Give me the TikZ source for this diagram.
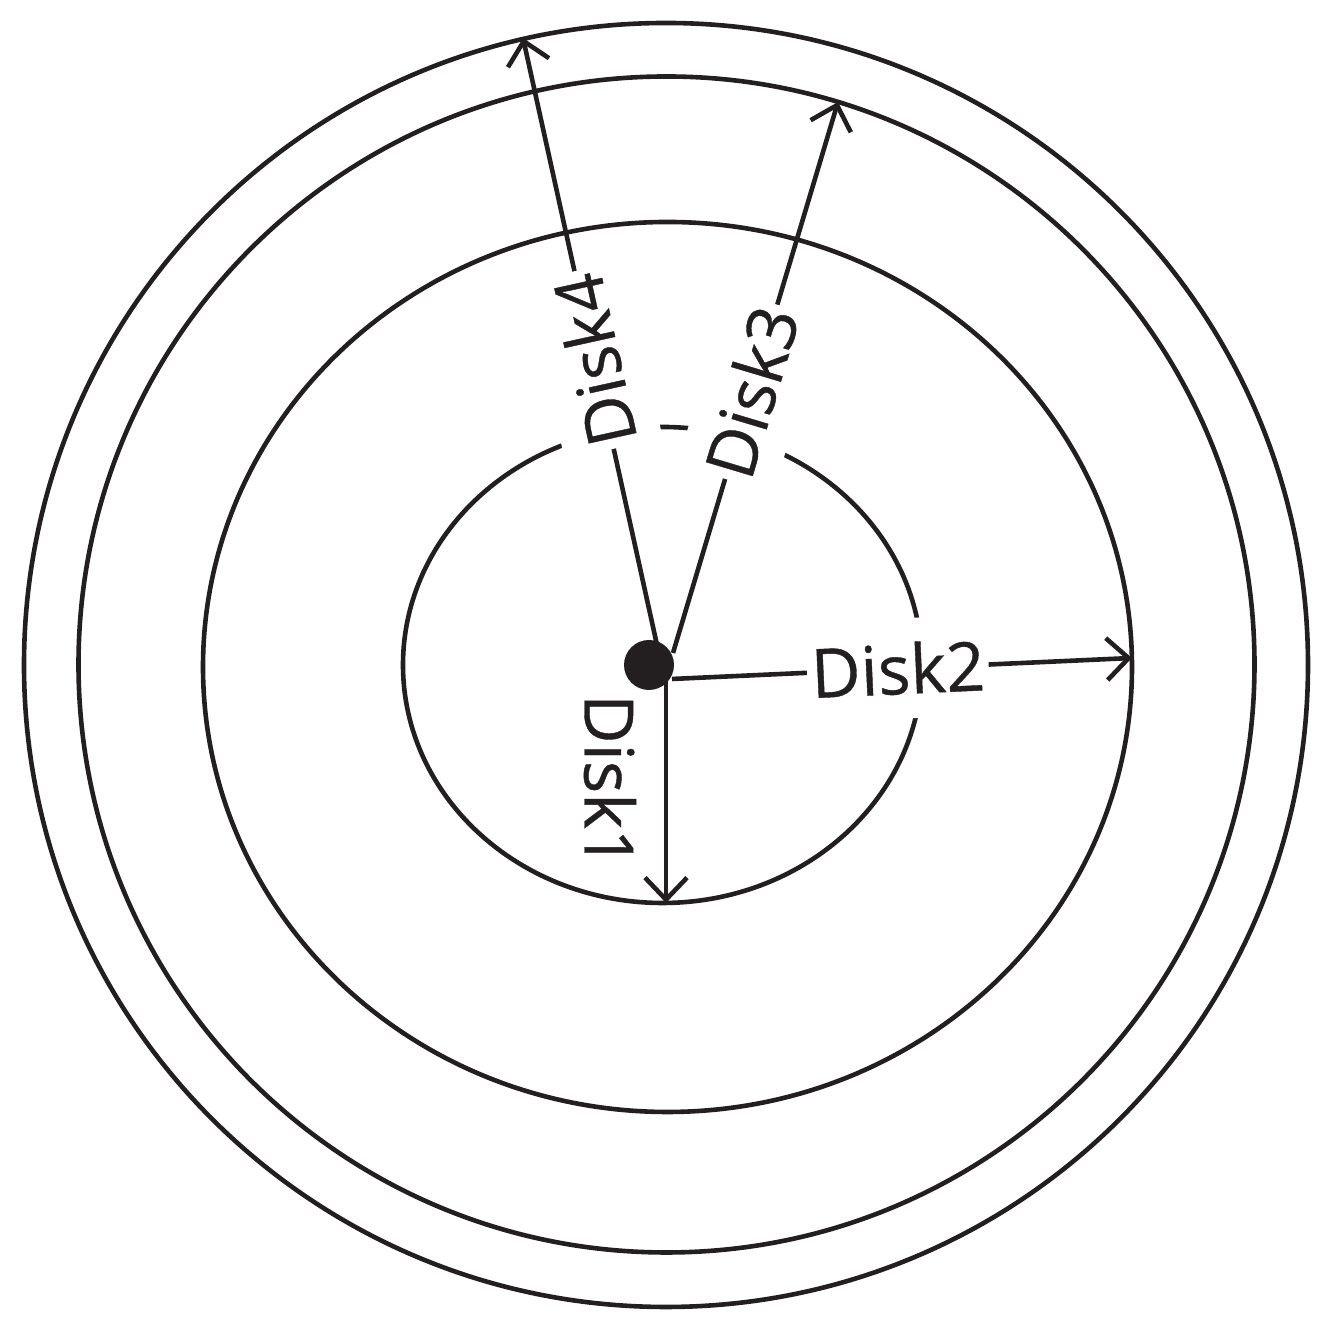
\documentclass[tikz,border=0pt]{standalone}
\usepackage{fontspec}
\setmainfont{Open Sans}[FakeBold=0.6]
\usetikzlibrary{arrows.meta}
\definecolor{ink}{RGB}{35,31,32}
\begin{document}
\begin{tikzpicture}[x=0.5pt,y=0.5pt,
  ring/.style={line width=2.3pt, draw=ink},
  conn/.style={line width=2.3pt, draw=ink, -{Straight Barb[length=11pt,width=21pt]}},
  lab/.style={fill=white, text=ink, inner xsep=2pt, inner ysep=12pt, font=\fontsize{34}{34}\selectfont},
]
\useasboundingbox (0,0) rectangle (1330,1325);
% rings
\draw[ring] (666,660) circle[radius=642];
\draw[ring] (666.5,660.5) circle[radius=588];
\draw[ring] (667.5,658) ellipse[x radius=464.5, y radius=445];
\draw[ring] (662.5,660) ellipse[x radius=259.5, y radius=238];
% end points
\coordinate (s1) at (666,645);
\coordinate (e1) at (666,422);
\coordinate (s2) at (672,646);
\coordinate (e2) at (1132,667);
\coordinate (s3) at (673,672);
\coordinate (e3) at (838,1223);
\coordinate (s4) at (657,680);
\coordinate (e4) at (523,1287);
% connectors
\draw[conn] (s1) -- (e1);
\draw[conn] (s2) -- node[lab, pos=0.491, sloped] (l2) {Disk2} (e2);
\draw[conn] (s3) -- node[lab, pos=0.474, sloped] (l3) {Disk3} (e3);
\draw[conn] (s4) -- node[lab, pos=0.4695, sloped, allow upside down] (l4) {Disk4} (e4);
\node[lab, fill=none, rotate=-90] (l1) at (610,544) {Disk1};
% hub
\node[circle, fill=ink, minimum size=25pt, inner sep=0pt] (hub) at (649,660) {};
\end{tikzpicture}
\end{document}
